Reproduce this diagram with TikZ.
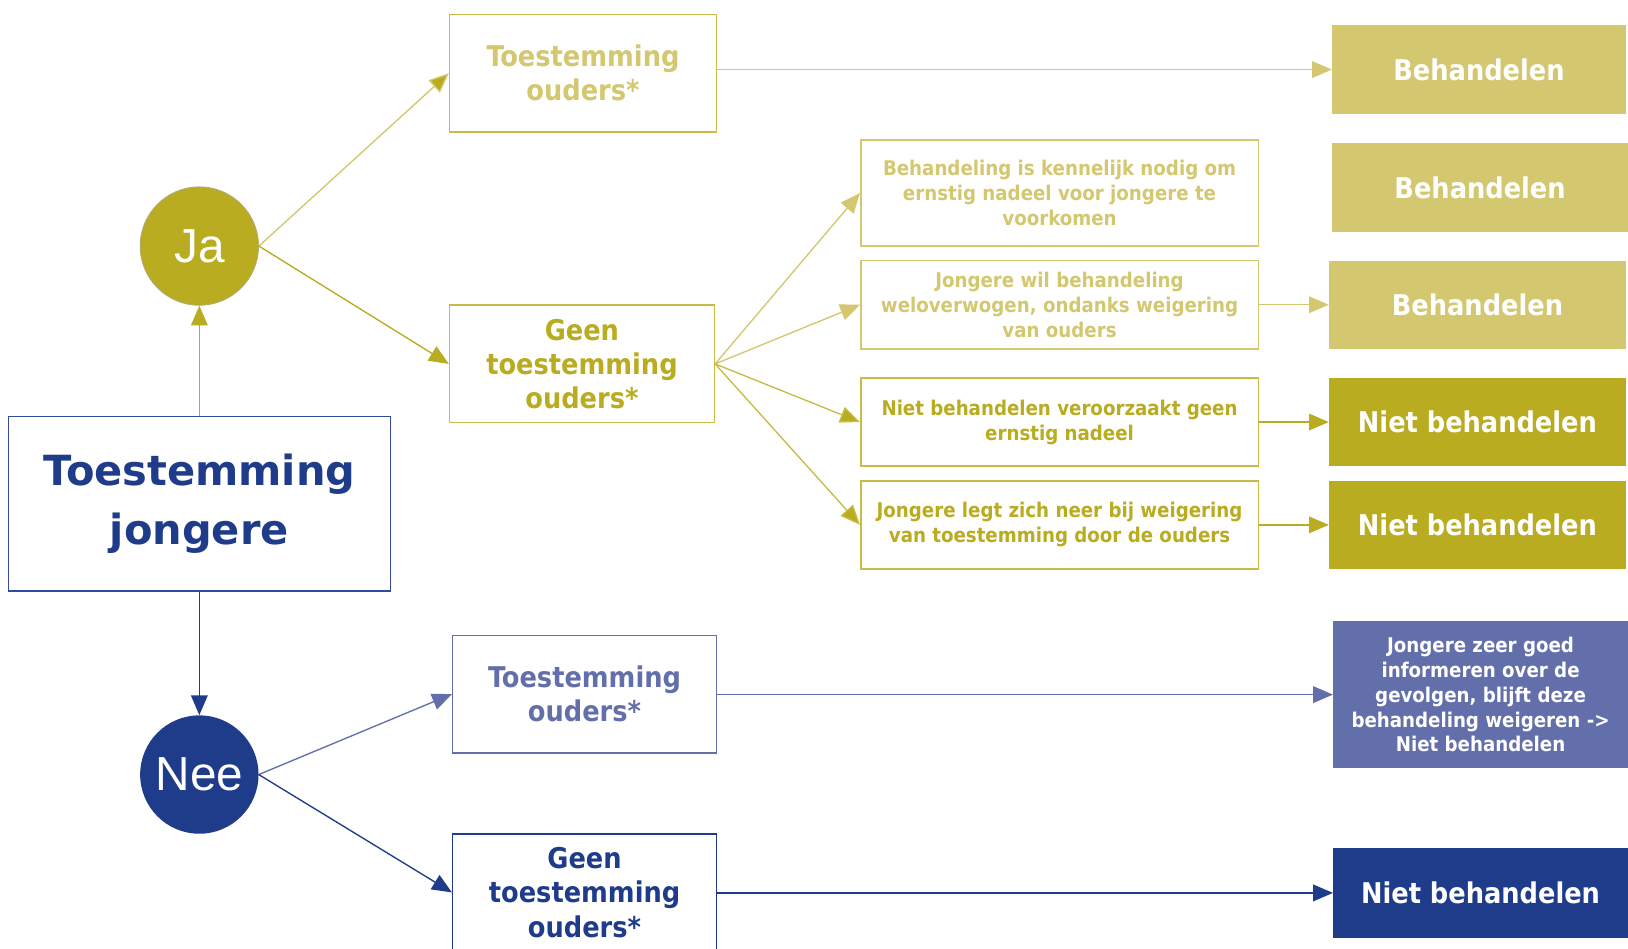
\documentclass[tikz,border=0pt]{standalone}
\usepackage{fontspec}
\setmainfont{Liberation Sans}
\newfontfamily\cond{DejaVu Sans Condensed Bold}
\newfontfamily\widef{DejaVu Sans Bold}
\usetikzlibrary{arrows.meta}
\definecolor{oliveD}{RGB}{185,172,32}
\definecolor{oliveM}{RGB}{200,188,70}
\definecolor{oliveL}{RGB}{211,200,112}
\definecolor{blueD}{RGB}{31,60,138}
\definecolor{blueM}{RGB}{99,111,170}
\definecolor{blueB}{RGB}{50,75,160}
\newcommand\fbig{\cond\fontsize{27.5}{33}\selectfont}
\newcommand\fsml{\cond\fontsize{19.5}{24}\selectfont}
\tikzset{
  box/.style={draw, line width=1.5pt, inner sep=0pt, align=center, fill=white},
  solid box/.style={inner sep=0pt, align=center, text=white},
  circ/.style={circle, inner sep=0pt, minimum size=114pt, text=white, font=\fontsize{46}{50}\selectfont},
  conn/.style={line width=1.3pt, -{Triangle[length=19pt,width=16pt]}},
  darkhead/.style={-{Triangle[length=19pt,width=16pt,fill=oliveD]}},
}
\begin{document}
\begin{tikzpicture}[x=1pt,y=-1pt]
\useasboundingbox[fill=white] (0,0) rectangle (1568,914);

% left column
\node[box, draw=blueB, text=blueD, minimum width=368pt, minimum height=168pt,
  font=\widef\fontsize{40}{57}\selectfont] (jong) at (192,485) {Toestemming\\jongere};
\node[circ, fill=oliveD, draw=oliveL!60!gray, line width=0.8pt] (ja) at (192,237) {Ja};
\node[circ, fill=blueD] (nee) at (192,746) {Nee};

% olive branch
\node[box, draw=oliveM, text=oliveL, minimum width=257pt, minimum height=113pt, font=\fbig] (t1) at (561.5,70.5) {Toestemming\\ouders*};
\node[box, draw=oliveM, text=oliveD, minimum width=255pt, minimum height=113pt, font=\fbig] (g1) at (560.5,350.5) {Geen\\toestemming\\ouders*};

\node[box, draw=oliveL, text=oliveL, minimum width=383pt, minimum height=102pt, font=\fsml] (m1) at (1020.5,186) {Behandeling is kennelijk nodig om\\ernstig nadeel voor jongere te\\voorkomen};
\node[box, draw=oliveL, text=oliveL, minimum width=383pt, minimum height=85pt, font=\fsml] (m2) at (1020.5,293.5) {Jongere wil behandeling\\weloverwogen, ondanks weigering\\van ouders};
\node[box, draw=oliveM, text=oliveD, minimum width=383pt, minimum height=85pt, font=\fsml] (m3) at (1020.5,406.5) {Niet behandelen veroorzaakt geen\\ernstig nadeel};
\node[box, draw=oliveM, text=oliveD, minimum width=383pt, minimum height=85pt, font=\fsml] (m4) at (1020.5,505.5) {Jongere legt zich neer bij weigering\\van toestemming door de ouders};

\node[solid box, fill=oliveL, minimum width=283pt, minimum height=86pt, font=\fbig] (b1) at (1424.5,67) {Behandelen};
\node[solid box, fill=oliveL, minimum width=285pt, minimum height=85pt, font=\fbig] (b2) at (1425.5,180.5) {Behandelen};
\node[solid box, fill=oliveL, minimum width=286pt, minimum height=85pt, font=\fbig] (b3) at (1423,293.5) {Behandelen};
\node[solid box, fill=oliveD, minimum width=286pt, minimum height=85pt, font=\fbig] (n1) at (1423,406.5) {Niet behandelen};
\node[solid box, fill=oliveD, minimum width=286pt, minimum height=85pt, font=\fbig] (n2) at (1423,505.5) {Niet behandelen};

% blue branch
\node[box, draw=blueM, text=blueM, minimum width=254pt, minimum height=113pt, font=\fbig] (t2) at (563,668.5) {Toestemming\\ouders*};
\node[box, draw=blueD, text=blueD, minimum width=254pt, minimum height=113pt, font=\fbig] (g2) at (563,859.5) {Geen\\toestemming\\ouders*};
\node[solid box, fill=blueM, minimum width=284pt, minimum height=142pt, font=\fsml] (jz) at (1426,669) {Jongere zeer goed\\informeren over de\\gevolgen, blijft deze\\behandeling weigeren ->\\Niet behandelen};
\node[solid box, fill=blueD, minimum width=284pt, minimum height=86pt, font=\fbig] (nb) at (1426,860) {Niet behandelen};

% connectors
\draw[conn, draw=oliveD, darkhead] (jong.north) -- (ja.south);
\draw[conn, draw=blueD] (jong.south) -- (nee.north);

\draw[conn, draw=oliveL, darkhead] (ja.east) -- (t1.west);
\draw[conn, draw=oliveD] (ja.east) -- (g1.west);

\draw[conn, draw=oliveL] (g1.east) -- (m1.west);
\draw[conn, draw=oliveL] (g1.east) -- (m2.west);
\draw[conn, draw=oliveM, darkhead] (g1.east) -- (m3.west);
\draw[conn, draw=oliveM, darkhead] (g1.east) -- (m4.west);

\draw[conn, draw=oliveL] (t1.east |- b1.west) -- (b1.west);
\draw[conn, draw=oliveL] (m2.east) -- (b3.west);
\draw[conn, draw=oliveD] (m3.east) -- (n1.west);
\draw[conn, draw=oliveD] (m4.east) -- (n2.west);

\draw[conn, draw=blueM] (nee.east) -- (t2.west);
\draw[conn, draw=blueD] (nee.east) -- (g2.west);
\draw[conn, draw=blueM] (t2.east |- jz.west) -- (jz.west);
\draw[conn, draw=blueD] (g2.east |- nb.west) -- (nb.west);
\end{tikzpicture}
\end{document}
